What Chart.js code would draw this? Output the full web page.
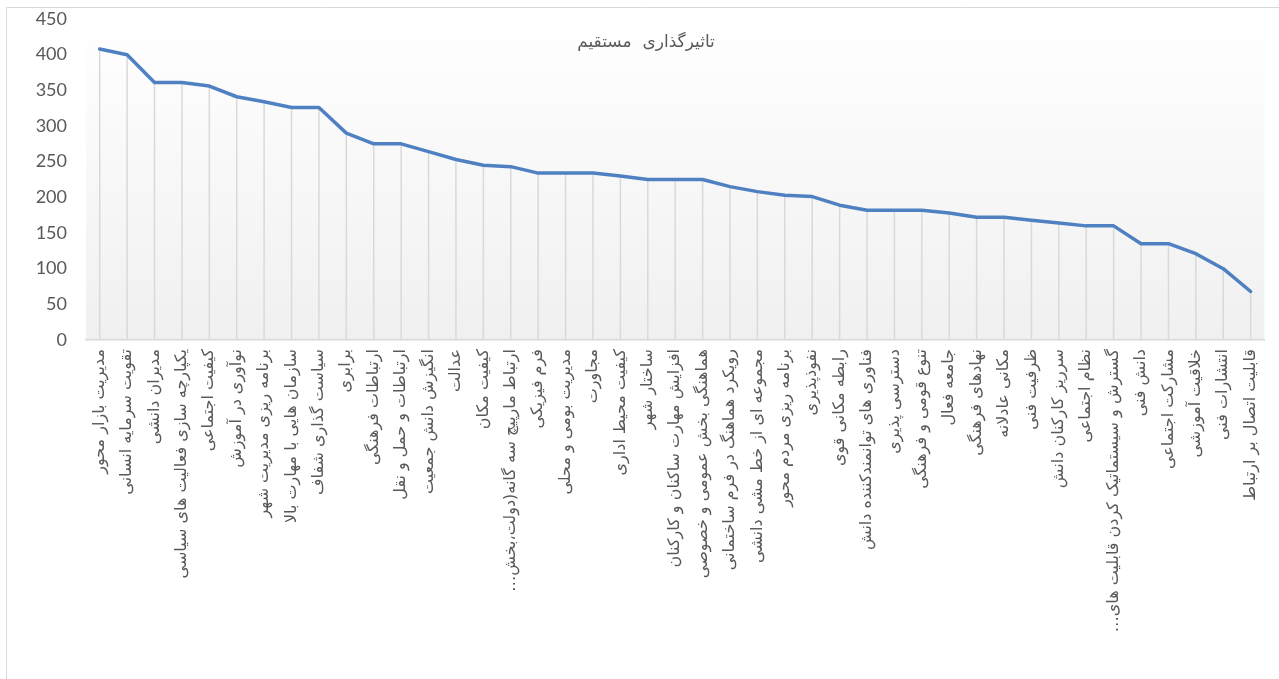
<!DOCTYPE html>
<html lang="fa">
<head>
<meta charset="utf-8">
<title>تاثیرگذاری مستقیم</title>
<script src="https://cdn.jsdelivr.net/npm/chart.js@4.4.1/dist/chart.umd.min.js"></script>
<style>
  html, body { margin: 0; padding: 0; background: #ffffff; }
  #chart { display: block; }
</style>
</head>
<body>
<canvas id="chart" width="1279" height="679" dir="rtl"></canvas>
<script>
const chartTitle = 'تاثیرگذاری  مستقیم';

const categories = [
   'مدیریت بازار محور',
   'تقویت سرمایه انسانی',
   'مدیران دانشی',
   'یکپارچه سازی فعالیت های سیاسی',
   'کیفیت اجتماعی',
   'نوآوری در آموزش',
   'برنامه ریزی مدیریت شهر',
   'سازمان هایی با مهارت بالا',
   'سیاست گذاری شفاف',
   'برابری',
   'ارتباطات فرهنگی',
   'ارتباطات و حمل و نقل',
   'انگیزش دانش جمعیت',
   'عدالت',
   'کیفیت مکان',
   'ارتباط مارپیچ سه گانه(دولت،بخش…',
   'فرم فیزیکی',
   'مدیریت بومی و محلی',
   'مجاورت',
   'کیفیت محیط اداری',
   'ساختار شهر',
   'افزایش مهارت ساکنان و کارکنان',
   'هماهنگی بخش عمومی و خصوصی',
   'رویکرد هماهنگ در فرم ساختمانی',
   'مجموعه ای از خط مشی دانشی',
   'برنامه ریزی مردم محور',
   'نفوذپذیری',
   'رابطه مکانی قوی',
   'فناوری های توانمندکننده دانش',
   'دسترسی پذیری',
   'تنوع قومی و فرهنگی',
   'جامعه فعال',
   'نهادهای فرهنگی',
   'مکانی عادلانه',
   'ظرفیت فنی',
   'سرریز کارکنان دانش',
   'نظام اجتماعی',
   'گسترش و سیستماتیک کردن قابلیت های…',
   'دانش فنی',
   'مشارکت اجتماعی',
   'خلاقیت آموزشی',
   'انتشارات فنی',
   'قابلیت اتصال بر ارتباط'
];

const values = [
   408, 400, 361, 361, 356, 341, 334, 326, 326, 290,
   275, 275, 264, 253, 245, 243, 234, 234, 234, 230,
   225, 225, 225, 215, 208, 203, 201, 189, 182, 182,
   182, 178, 172, 172, 168, 164, 160, 160, 135, 135,
   121, 100, 68
];

const yMin = 0;
const yMax = 450;
const yStep = 50;

const textColor = '#595959';
const lineColor = '#d9d9d9';

// frame + plot gradient, drawn first
const backdrop = {
   id: 'backdrop',
   beforeDraw(chart) {
      const ctx = chart.ctx;
      const a = chart.chartArea;
      ctx.save();
      ctx.fillStyle = '#ffffff';
      ctx.fillRect(0, 0, chart.width, chart.height);

      const g = ctx.createLinearGradient(0, a.top, 0, a.bottom);
      g.addColorStop(0, '#ffffff');
      g.addColorStop(1, '#f0f0f0');
      ctx.fillStyle = g;
      ctx.fillRect(a.left, a.top, a.right - a.left, a.bottom - a.top);

      ctx.strokeStyle = lineColor;
      ctx.lineWidth = 1;
      ctx.beginPath();
      ctx.moveTo(6.5, chart.height);
      ctx.lineTo(6.5, 7.5);
      ctx.lineTo(chart.width, 7.5);
      ctx.stroke();
      ctx.restore();
   }
};

// vertical drop lines from each point down to the axis
const dropLines = {
   id: 'dropLines',
   beforeDatasetsDraw(chart) {
      const ctx = chart.ctx;
      const meta = chart.getDatasetMeta(0);
      const bottom = chart.scales.y.getPixelForValue(yMin);
      ctx.save();
      ctx.strokeStyle = lineColor;
      ctx.lineWidth = 1.5;
      meta.data.forEach(function (pt) {
         ctx.beginPath();
         ctx.moveTo(pt.x, pt.y);
         ctx.lineTo(pt.x, bottom);
         ctx.stroke();
      });
      ctx.restore();
   }
};

// title sits over the plot, like the original
const overlayTitle = {
   id: 'overlayTitle',
   afterDraw(chart) {
      const ctx = chart.ctx;
      ctx.save();
      ctx.font = '17px "DejaVu Sans", sans-serif';
      ctx.fillStyle = textColor;
      ctx.textAlign = 'center';
      ctx.textBaseline = 'middle';
      ctx.fillText(chartTitle, 646, 43);
      ctx.restore();
   }
};

new Chart(document.getElementById('chart'), {
   type: 'line',
   data: {
      labels: categories,
      datasets: [{
         data: values,
         borderColor: '#4f81c2',
         borderWidth: 3.5,
         borderJoinStyle: 'round',
         borderCapStyle: 'round',
         pointRadius: 0,
         pointHoverRadius: 0,
         tension: 0,
         fill: false
      }]
   },
   options: {
      responsive: false,
      animation: false,
      events: [],
      layout: {
         padding: { left: 0, top: 19, right: 12, bottom: 0 }
      },
      plugins: {
         legend: { display: false },
         title: { display: false },
         tooltip: { enabled: false }
      },
      scales: {
         x: {
            offset: true,
            grid: { display: false, drawTicks: false },
            border: { display: true, color: lineColor, width: 1.5 },
            ticks: {
               autoSkip: false,
               minRotation: 90,
               maxRotation: 90,
               padding: 9,
               color: textColor,
               font: { family: '"DejaVu Sans", sans-serif', size: 16 }
            },
            afterFit(scale) { scale.height = 679 - 340; }
         },
         y: {
            min: yMin,
            max: yMax,
            grid: { display: false, drawTicks: false },
            border: { display: false },
            ticks: {
               stepSize: yStep,
               padding: 19,
               color: textColor,
               font: { family: 'Lato, "Liberation Sans", sans-serif', size: 18 }
            },
            afterFit(scale) {
               scale.width = 86;
               // tick padding should not push the plot top down
               scale.paddingTop = 11;
               scale.paddingBottom = 11;
            }
         }
      }
   },
   plugins: [backdrop, dropLines, overlayTitle]
});
</script>
</body>
</html>
